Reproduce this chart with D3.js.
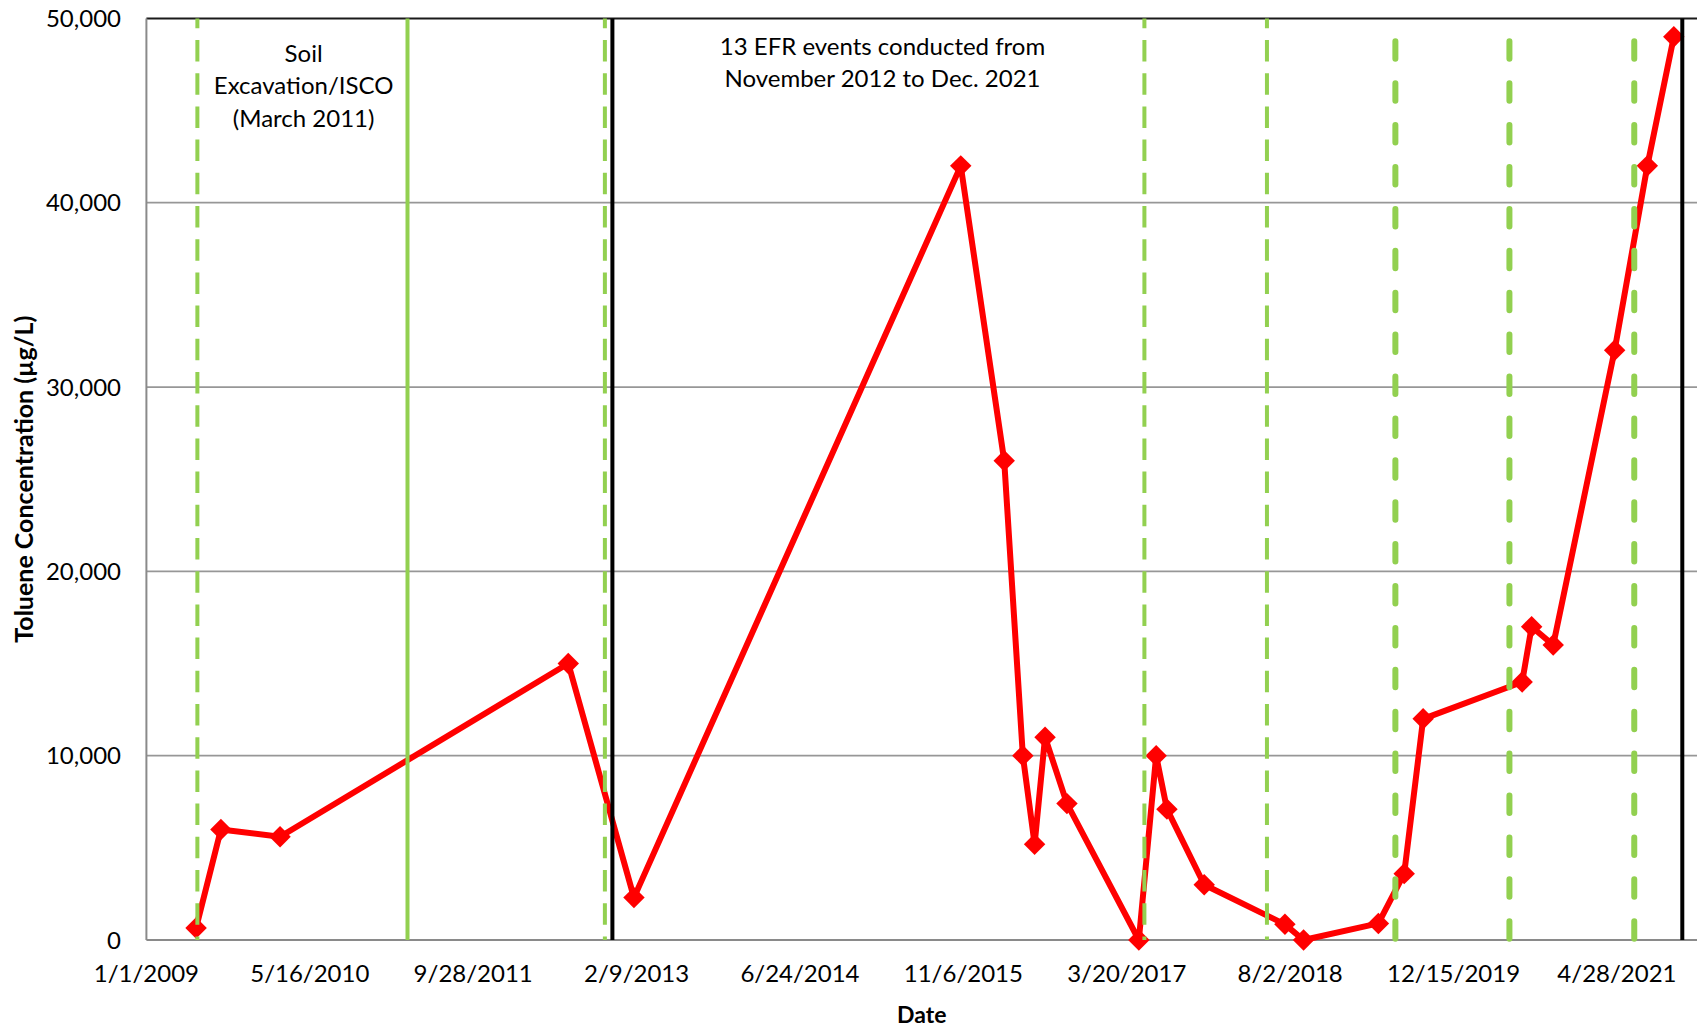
<!DOCTYPE html>
<html>
<head>
<meta charset="utf-8">
<script src="https://cdn.jsdelivr.net/npm/d3@7"></script>
<style>
  html, body { margin: 0; padding: 0; background: #fff; }
  svg { display: block; font-family: Lato, "Open Sans", sans-serif; }
</style>
</head>
<body>
<svg id="chart" width="1697" height="1033"></svg>
<script>
// Toluene sampling results (µg/L) by sample date
const sampleDates = ["6/2/2009","8/17/2009","2/14/2010","7/15/2012","2/1/2013","10/29/2015","3/10/2016","5/6/2016","6/11/2016","7/13/2016","9/18/2016","4/26/2017","6/18/2017","7/21/2017","11/12/2017","7/17/2018","9/12/2018","4/29/2019","7/17/2019","9/13/2019","7/12/2020","8/10/2020","10/15/2020","4/21/2021","7/30/2021","10/19/2021"];
const toluene = [650, 6000, 5600, 15000, 2300, 42000, 26000, 10000, 5200, 11000, 7400, 0, 10000, 7100, 3000, 850, 0, 900, 3600, 12000, 14000, 17000, 16000, 32000, 42000, 49000];

// Remediation events
const eventDatesEarly = ["6/6/2009","11/4/2012","5/13/2017","5/23/2018"];
const eventDatesLate = ["6/20/2019","6/3/2020","6/20/2021"];
const iscoDate = ["3/11/2011"];
const efrPeriod = ["11/27/2012","11/14/2021"];

// Axes
const xTickLabels = ["1/1/2009","5/16/2010","9/28/2011","2/9/2013","6/24/2014","11/6/2015","3/20/2017","8/2/2018","12/15/2019","4/28/2021"];
const xDomain = ["1/1/2009","12/29/2021"];
const yTicks = [0, 10000, 20000, 30000, 40000, 50000];

const parse = d3.utcParse("%m/%d/%Y");
const svg = d3.select("#chart");

const plotLeft = 146.4, plotRight = 1697, plotTop = 18.4, plotBottom = 940;
const x = d3.scaleUtc().domain(xDomain.map(parse)).range([plotLeft, plotRight]);
const y = d3.scaleLinear().domain([0, 50000]).range([plotBottom, plotTop]);

const green = "#92D050";
const fmt = d3.format(",");

// Horizontal gridlines
svg.append("g").selectAll("line").data(yTicks.slice(1, -1)).join("line")
  .attr("x1", plotLeft).attr("x2", plotRight)
  .attr("y1", d => y(d)).attr("y2", d => y(d))
  .attr("stroke", "#979797").attr("stroke-width", 1.8);

// Top border
svg.append("line").attr("x1", plotLeft).attr("x2", plotRight)
  .attr("y1", y(50000)).attr("y2", y(50000))
  .attr("stroke", "#1a1a1a").attr("stroke-width", 2);

// Axis lines
svg.append("line").attr("x1", plotLeft).attr("x2", plotLeft)
  .attr("y1", plotTop).attr("y2", plotBottom)
  .attr("stroke", "#8a8a8a").attr("stroke-width", 2);
svg.append("line").attr("x1", plotLeft).attr("x2", plotRight)
  .attr("y1", plotBottom).attr("y2", plotBottom)
  .attr("stroke", "#8a8a8a").attr("stroke-width", 2);

// Y tick labels
svg.append("g").selectAll("text").data(yTicks).join("text")
  .attr("x", 121).attr("y", d => y(d) + 8.5)
  .attr("text-anchor", "end").attr("font-size", 24).attr("fill", "#000")
  .text(d => fmt(d));

// X tick labels
svg.append("g").selectAll("text").data(xTickLabels).join("text")
  .attr("x", d => x(parse(d))).attr("y", 982)
  .attr("text-anchor", "middle").attr("font-size", 24).attr("fill", "#000")
  .text(d => d);

// Axis titles
svg.append("text").attr("x", (plotLeft + plotRight) / 2).attr("y", 1023)
  .attr("text-anchor", "middle").attr("font-size", 23).attr("font-weight", 700)
  .text("Date");
svg.append("text")
  .attr("transform", `translate(33,${(plotTop + plotBottom) / 2}) rotate(-90)`)
  .attr("text-anchor", "middle").attr("font-size", 25).attr("font-weight", 700)
  .text("Toluene Concentration (µg/L)");

// Concentration series
const pts = sampleDates.map((d, i) => ({ date: parse(d), value: toluene[i] }));
svg.append("path").datum(pts)
  .attr("fill", "none").attr("stroke", "#FF0000").attr("stroke-width", 6)
  .attr("stroke-linejoin", "round")
  .attr("d", d3.line().x(d => x(d.date)).y(d => y(d.value)));
const diamond = d3.symbol(d3.symbolSquare, 230);
svg.append("g").selectAll("path").data(pts).join("path")
  .attr("d", diamond)
  .attr("transform", d => `translate(${x(d.date)},${y(d.value)}) rotate(45)`)
  .attr("fill", "#FF0000");

// Event markers
svg.append("g").selectAll("line").data(eventDatesEarly).join("line")
  .attr("x1", d => x(parse(d))).attr("x2", d => x(parse(d)))
  .attr("y1", plotTop).attr("y2", plotBottom)
  .attr("stroke", green).attr("stroke-width", 4)
  .attr("stroke-dasharray", "21.5 11.7").attr("stroke-dashoffset", 11.6);
svg.append("g").selectAll("line").data(eventDatesLate).join("line")
  .attr("x1", d => x(parse(d))).attr("x2", d => x(parse(d)))
  .attr("y1", 41.3).attr("y2", plotBottom)
  .attr("stroke", green).attr("stroke-width", 6)
  .attr("stroke-linecap", "round")
  .attr("stroke-dasharray", "17.5 24.4");
svg.append("g").selectAll("line").data(iscoDate).join("line")
  .attr("x1", d => x(parse(d))).attr("x2", d => x(parse(d)))
  .attr("y1", plotTop).attr("y2", plotBottom)
  .attr("stroke", green).attr("stroke-width", 4);
svg.append("g").selectAll("line").data(efrPeriod).join("line")
  .attr("x1", d => x(parse(d))).attr("x2", d => x(parse(d)))
  .attr("y1", plotTop).attr("y2", plotBottom)
  .attr("stroke", "#000").attr("stroke-width", 4);

// Annotations
const soil = svg.append("text").attr("text-anchor", "middle").attr("font-size", 24).attr("fill", "#000");
["Soil", "Excavation/ISCO", "(March 2011)"].forEach((t, i) =>
  soil.append("tspan").attr("x", 303.6).attr("y", 61.5 + i * 32.5).text(t));
const efr = svg.append("text").attr("text-anchor", "middle").attr("font-size", 24).attr("fill", "#000");
["13 EFR events conducted from", "November 2012 to Dec. 2021"].forEach((t, i) =>
  efr.append("tspan").attr("x", 882.5).attr("y", 55 + i * 31.5).text(t));
</script>
</body>
</html>
